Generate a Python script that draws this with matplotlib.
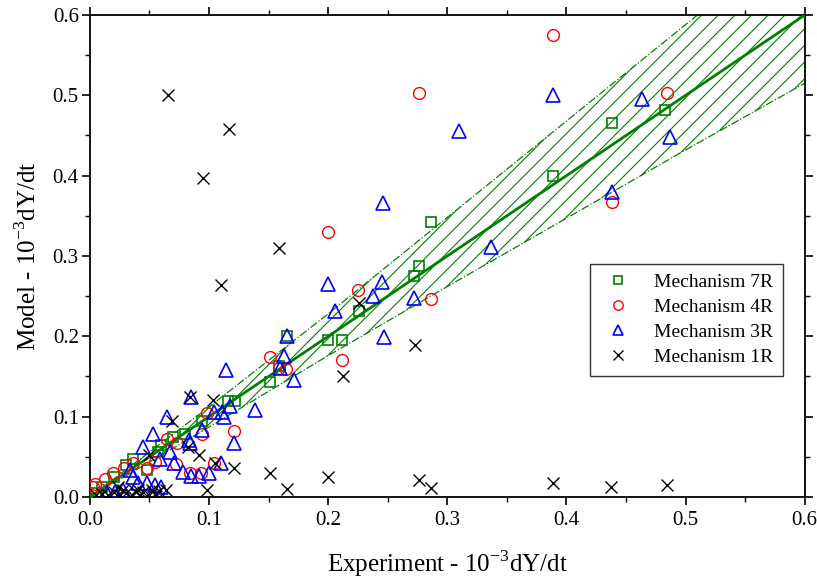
import matplotlib
matplotlib.use("Agg")
import matplotlib.pyplot as plt
from matplotlib.ticker import MultipleLocator, FormatStrFormatter

plt.rcParams['font.family'] = ['Liberation Serif', 'DejaVu Serif']
plt.rcParams['mathtext.fontset'] = 'custom'
plt.rcParams['mathtext.rm'] = 'Liberation Serif'
plt.rcParams['hatch.linewidth'] = 0.8

# Mechanism 7R (squares)
sq_x = [0.286, 0.276, 0.272, 0.2255, 0.1995, 0.212, 0.1656, 0.159, 0.389, 0.438, 0.483,
        0.151, 0.122, 0.116, 0.094, 0.036, 0.048, 0.057, 0.07, 0.08, 0.06, 0.03, 0.02, 0.01, 0.005]
sq_y = [0.342, 0.288, 0.275, 0.232, 0.196, 0.196, 0.200, 0.163, 0.400, 0.465, 0.482,
        0.1435, 0.120, 0.1195, 0.095, 0.047, 0.0336, 0.056, 0.075, 0.078, 0.065, 0.04, 0.025, 0.012, 0.005]

# Mechanism 4R (circles)
c_x = [0.389, 0.276, 0.484, 0.438, 0.1997, 0.225, 0.286, 0.212, 0.151, 0.165, 0.1586, 0.121,
       0.094, 0.104, 0.093, 0.084, 0.072, 0.065, 0.098, 0.048, 0.036, 0.029, 0.019, 0.0126,
       0.004, 0.003, 0.055, 0.073]
c_y = [0.575, 0.503, 0.503, 0.367, 0.330, 0.258, 0.2465, 0.1705, 0.174, 0.159, 0.160, 0.0825,
       0.079, 0.042, 0.0295, 0.0295, 0.041, 0.072, 0.104, 0.0357, 0.042, 0.0357, 0.0295, 0.023,
       0.016, 0.012, 0.044, 0.067]

# Mechanism 3R (triangles)
t_x = [0.389, 0.310, 0.463, 0.487, 0.438, 0.337, 0.246, 0.1995, 0.245, 0.238, 0.2056, 0.272,
       0.247, 0.171, 0.163, 0.1656, 0.1594, 0.114, 0.139, 0.121, 0.1097, 0.100, 0.092, 0.085,
       0.078, 0.071, 0.067, 0.059, 0.0526, 0.0447, 0.065, 0.085, 0.094, 0.104, 0.1105, 0.1127,
       0.118, 0.083, 0.084, 0.036, 0.040, 0.0336, 0.0476, 0.0545, 0.060, 0.028, 0.021, 0.014]
t_y = [0.500, 0.456, 0.495, 0.448, 0.380, 0.311, 0.366, 0.265, 0.268, 0.2506, 0.232, 0.248,
       0.199, 0.1456, 0.1755, 0.200, 0.160, 0.158, 0.108, 0.0676, 0.0427, 0.030, 0.0265, 0.0265,
       0.0315, 0.042, 0.056, 0.047, 0.079, 0.0626, 0.099, 0.125, 0.083, 0.106, 0.106, 0.099,
       0.113, 0.071, 0.0668, 0.0253, 0.018, 0.0336, 0.017, 0.015, 0.0128, 0.0087, 0.0066, 0.0046]

# Mechanism 1R (crosses)
x_x = [0.0655, 0.1166, 0.0948, 0.1586, 0.110, 0.2255, 0.2725, 0.2126, 0.1656, 0.1995, 0.276,
       0.2867, 0.389, 0.4378, 0.484, 0.084, 0.069, 0.1035, 0.0498, 0.092, 0.082, 0.105, 0.121,
       0.151, 0.098, 0.064, 0.024, 0.0405, 0.052, 0.005, 0.01, 0.015, 0.02, 0.025, 0.03, 0.035,
       0.038, 0.042, 0.045, 0.05, 0.055, 0.058, 0.028]
x_y = [0.5005, 0.458, 0.397, 0.310, 0.264, 0.242, 0.189, 0.1506, 0.0096, 0.0245, 0.021,
       0.0116, 0.0178, 0.0128, 0.015, 0.125, 0.095, 0.1207, 0.052, 0.052, 0.0626, 0.042, 0.0357,
       0.0295, 0.0087, 0.0087, 0.0128, 0.0087, 0.0087, 0.002, 0.004, 0.003, 0.006, 0.002, 0.005,
       0.003, 0.007, 0.002, 0.006, 0.003, 0.004, 0.008, 0.009]

# Fit line and confidence band
fit_x = [0.0, 0.6]
fit_y = [0.0, 0.6]
band_x = [0.0, 0.1, 0.2, 0.3, 0.4, 0.5, 0.6]
band_upper = [0.0, 0.112, 0.228, 0.348, 0.468, 0.588, 0.708]
band_lower = [0.0, 0.087, 0.176, 0.262, 0.347, 0.432, 0.515]

green = '#008000'

fig = plt.figure(figsize=(8.17, 5.81), dpi=100)
ax = fig.add_axes([0.110, 0.1446, 0.875, 0.8296])

ax.fill_between(band_x, band_lower, band_upper, facecolor='none', edgecolor=green,
                hatch='//', linewidth=0, zorder=1)
ax.plot(band_x, band_upper, color=green, linestyle='-.', linewidth=0.9, zorder=2)
ax.plot(band_x, band_lower, color=green, linestyle='-.', linewidth=0.9, zorder=2)
ax.plot(fit_x, fit_y, color=green, linewidth=2.0, zorder=3)

ax.plot(sq_x, sq_y, linestyle='none', marker='s', markersize=7, mfc='none', mec=green,
        mew=1.2, label='Mechanism 7R', zorder=4)
ax.plot(c_x, c_y, linestyle='none', marker='o', markersize=8.5, mfc='none', mec='red',
        mew=1.0, label='Mechanism 4R', zorder=4)
ax.plot(t_x, t_y, linestyle='none', marker='^', markersize=9.5, mfc='none', mec='blue',
        mew=1.2, label='Mechanism 3R', zorder=4)
ax.plot(x_x, x_y, linestyle='none', marker='x', markersize=8.5, color='black',
        mew=1.0, label='Mechanism 1R', zorder=4)

ax.set_xlim(0, 0.6)
ax.set_ylim(0, 0.6)
ax.xaxis.set_major_locator(MultipleLocator(0.1))
ax.yaxis.set_major_locator(MultipleLocator(0.1))
ax.xaxis.set_minor_locator(MultipleLocator(0.05))
ax.yaxis.set_minor_locator(MultipleLocator(0.05))
ax.xaxis.set_major_formatter(FormatStrFormatter('%.1f'))
ax.yaxis.set_major_formatter(FormatStrFormatter('%.1f'))
ax.tick_params(which='major', direction='out', length=6, width=1.2, labelsize=15,
               top=True, right=True)
ax.tick_params(which='minor', direction='out', length=3.5, width=1.0, top=True, right=True)
ax.tick_params(axis='y', which='major', pad=2)
ax.tick_params(axis='x', which='major', pad=4)
for s in ax.spines.values():
    s.set_linewidth(1.3)

ax.set_xlabel('Experiment - 10$^{\\mathregular{-3}}$dY/dt', fontsize=18)
ax.set_ylabel('Model - 10$^{\\mathregular{-3}}$dY/dt', fontsize=18)
ax.xaxis.set_label_coords(0.5, -0.106)
ax.yaxis.set_label_coords(-0.068, 0.5)

leg = ax.legend(loc='lower left', bbox_to_anchor=(0.70, 0.251, 0.269, 0.226), mode='expand',
                borderaxespad=0.0,
                fontsize=14, frameon=True, fancybox=False, edgecolor='black',
                handletextpad=1.0, borderpad=0.5, labelspacing=0.38, markerscale=0.8,
                handlelength=1.8)
leg.get_frame().set_linewidth(1.0)

fig.savefig('out.png', dpi=100)
